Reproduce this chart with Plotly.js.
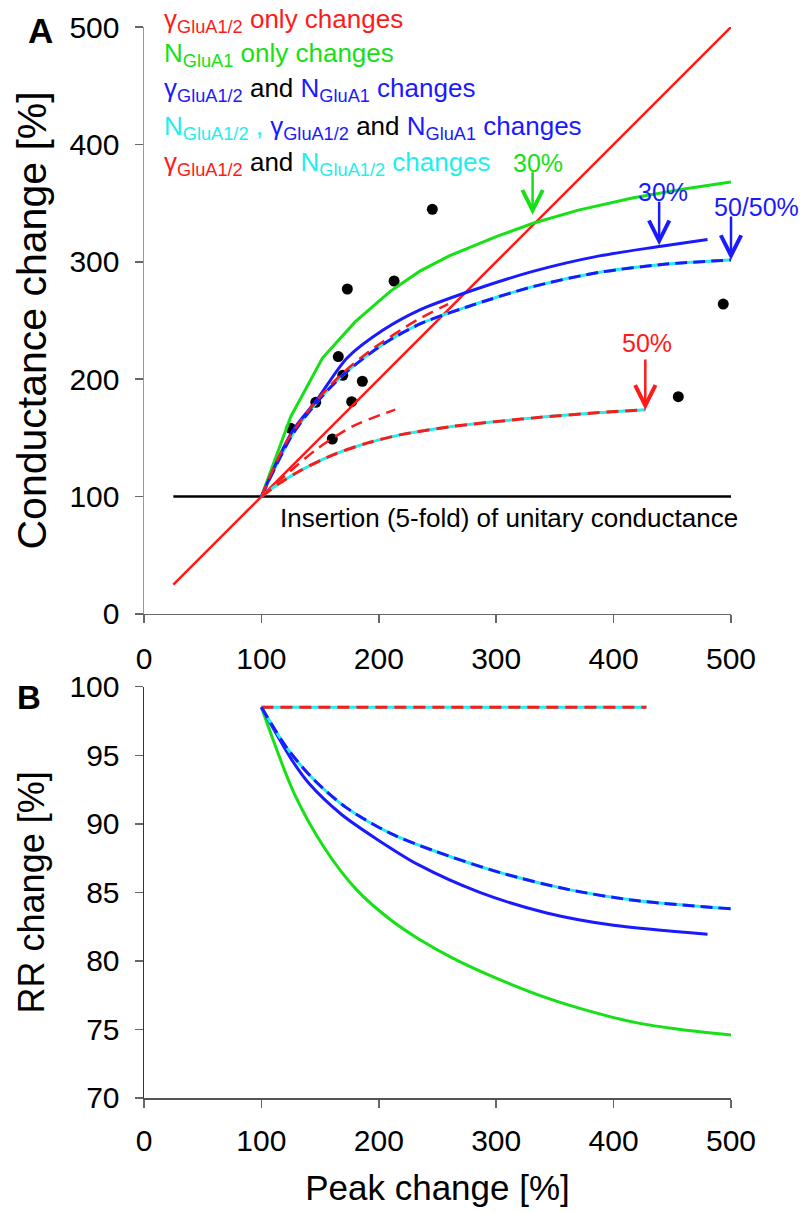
<!DOCTYPE html>
<html><head><meta charset="utf-8">
<script src="https://cdn.plot.ly/plotly-3.0.1.min.js"></script>
<style>html,body{margin:0;padding:0;background:#fff}#chart{width:803px;height:1212px}</style>
</head><body><div id="chart"></div>
<script>
// ---------- Panel A : Conductance change vs Peak change ----------
const dotPeak = [245.6, 213, 173.2, 165.5, 169.3, 186, 146.3, 176.9, 125, 160.4, 493.4, 455.1];
const dotCond = [344.7, 283.6, 276.8, 219.2, 203.3, 198.2, 180.3, 180.8, 158.1, 149, 264, 185.1];

const identityPeak = [25, 500];
const identityCond = [25, 500];
const insertionPeak = [25, 500];
const insertionCond = [100, 100];

const nOnlyPeak = [100, 125, 152, 180, 210, 235, 260, 300, 332, 370, 417, 460, 500];
const nOnlyCond = [100, 168, 218, 249, 275, 292, 305, 321.5, 333, 344, 354.5, 362, 368];

const gNPeak = [100, 126, 147, 173, 204, 235, 275, 332, 388, 439, 480];
const gNCond = [100, 155, 182, 218, 242, 259, 274, 292, 305, 313, 319];

const nn2Peak = [100, 126, 147, 170, 204, 235, 275, 332, 388, 445, 500];
const nn2Cond = [100, 152, 180, 204, 230, 247, 261.5, 279, 291, 298, 301.5];

const gOnlyPeak = [100, 121, 144, 167, 195, 232, 259];
const gOnlyCond = [100, 146, 178, 203, 226, 250, 264];

const gOnly2Peak = [100, 125, 148, 178, 214];
const gOnly2Cond = [100, 122, 141, 160, 174];

const gN2Peak = [100, 115, 133, 161, 190, 218, 261, 332, 388, 427];
const gN2Cond = [100, 111, 122, 135.5, 145.5, 152.5, 159.5, 167, 171.5, 174];

// ---------- Panel B : RR change vs Peak change ----------
const flatPeakB = [100, 428];
const flatRRB = [98.5, 98.5];
const nOnlyPeakB = [100, 128, 154, 181, 210, 234, 263, 293, 343, 381, 419, 457, 500];
const nOnlyRRB = [98.5, 92.2, 88.2, 85.2, 83.0, 81.6, 80.2, 79.0, 77.3, 76.3, 75.5, 75.0, 74.6];
const gNPeakB = [100, 126, 141, 168, 198, 234, 286, 343, 400, 480];
const gNRRB = [98.5, 94.65, 92.9, 90.7, 88.9, 87.0, 85.0, 83.5, 82.6, 81.95];
const nn2PeakB = [100, 122, 145, 172, 210, 248, 305, 362, 419, 500];
const nn2RRB = [98.5, 95.5, 93.2, 91.2, 89.3, 88, 86.4, 85.2, 84.4, 83.8];

// ticks
const xTicks = [0, 100, 200, 300, 400, 500];
const yTicksA = [0, 100, 200, 300, 400, 500];
const yTicksB = [70, 75, 80, 85, 90, 95, 100];

const RED = '#ff1a1a', GREEN = '#16e016', BLUE = '#1a1aff', CYAN = '#22eeee';
const FONT = 'Arial, "Liberation Sans", sans-serif';

function line(x, y, color, width, dash, xa, ya, shape) {
  return {x: x, y: y, type: 'scatter', mode: 'lines', xaxis: xa, yaxis: ya,
    line: {color: color, width: width, dash: dash || 'solid', shape: shape || 'linear', smoothing: 0.8},
    hoverinfo: 'skip', showlegend: false};
}
const S = 'spline';

const traces = [
  {x: dotPeak, y: dotCond, type: 'scatter', mode: 'markers', xaxis: 'x', yaxis: 'y',
   marker: {color: '#000', size: 11}, showlegend: false},
  line(insertionPeak, insertionCond, '#000', 2.5, null, 'x', 'y'),
  line(identityPeak, identityCond, RED, 2.5, null, 'x', 'y'),
  line(nOnlyPeak, nOnlyCond, GREEN, 3, null, 'x', 'y'),
  line(nn2Peak, nn2Cond, CYAN, 3, null, 'x', 'y', S),
  line(nn2Peak, nn2Cond, BLUE, 3, '12px,6px', 'x', 'y', S),
  line(gNPeak, gNCond, BLUE, 3, null, 'x', 'y', S),
  line(gOnlyPeak, gOnlyCond, RED, 2.5, '12px,7px', 'x', 'y', S),
  line(gOnly2Peak, gOnly2Cond, RED, 2.5, '12px,7px', 'x', 'y', S),
  line(gN2Peak, gN2Cond, CYAN, 3, null, 'x', 'y', S),
  line(gN2Peak, gN2Cond, RED, 3, '12px,7px', 'x', 'y', S),
  // panel B
  line(flatPeakB, flatRRB, CYAN, 3, null, 'x2', 'y2'),
  line(flatPeakB, flatRRB, RED, 3, '12px,7px', 'x2', 'y2'),
  line(nOnlyPeakB, nOnlyRRB, GREEN, 3, null, 'x2', 'y2', S),
  line(gNPeakB, gNRRB, BLUE, 3, null, 'x2', 'y2', S),
  line(nn2PeakB, nn2RRB, CYAN, 3, null, 'x2', 'y2', S),
  line(nn2PeakB, nn2RRB, BLUE, 3, '12px,6px', 'x2', 'y2', S)
];

function axis(extra) {
  return Object.assign({
    showgrid: false, zeroline: false, showline: true, linewidth: 1.5,
    ticks: 'outside', ticklen: 8, tickwidth: 1.5, tickcolor: '#666',
    tickfont: {family: FONT, size: 30, color: '#000'}
  }, extra);
}

function sp(color, s) { return '<span style="color:' + color + '">' + s + '</span>'; }
const g12 = 'γ<sub>GluA1/2</sub>';
const n1 = 'N<sub>GluA1</sub>';
const n12 = 'N<sub>GluA1/2</sub>';

const legendLines = [
  sp(RED, g12 + ' only changes'),
  sp(GREEN, n1 + ' only changes'),
  sp(BLUE, g12) + ' and ' + sp(BLUE, n1 + ' changes'),
  sp(CYAN, n12 + ' ,') + ' ' + sp(BLUE, g12) + ' and ' + sp(BLUE, n1 + ' changes'),
  sp(RED, g12) + ' and ' + sp(CYAN, n12 + ' changes')
];
// paper y positions of the legend lines
const legendPaperY = [1.0065, 0.9745, 0.9415, 0.9065, 0.873];

const annotations = [];
legendLines.forEach(function (t, i) {
  annotations.push({xref: 'paper', yref: 'paper', x: 0.03, y: legendPaperY[i], text: t, showarrow: false,
    xanchor: 'left', yanchor: 'middle', font: {family: FONT, size: 26, color: '#000'}});
});

function arrow(x, y, color, len) {
  return {xref: 'x', yref: 'y', x: x, y: y, ax: 0, ay: -len, text: '', showarrow: true,
    arrowhead: 5, arrowsize: 1.6, arrowwidth: 2.5, arrowcolor: color};
}
function label(x, y, color, t) {
  return {xref: 'x', yref: 'y', x: x, y: y, text: t, showarrow: false, xanchor: 'center', yanchor: 'middle',
    font: {family: FONT, size: 25, color: color}};
}
annotations.push(arrow(331, 340, GREEN, 44), label(335.6, 384, GREEN, '30%'));
annotations.push(arrow(438.8, 314, BLUE, 45), label(442, 359.5, BLUE, '30%'));
annotations.push(arrow(500, 301.5, BLUE, 45));
annotations.push({xref: 'paper', yref: 'paper', x: 1.0426, y: 0.832, text: '50/50%', showarrow: false,
  xanchor: 'center', yanchor: 'middle', font: {family: FONT, size: 25, color: BLUE}});
annotations.push(arrow(427, 173.8, RED, 52), label(428.4, 231, RED, '50%'));
annotations.push({xref: 'x', yref: 'y', x: 114, y: 82, text: 'Insertion (5-fold) of unitary conductance',
  showarrow: false, xanchor: 'left', yanchor: 'middle', font: {family: FONT, size: 26, color: '#000'}});
annotations.push({xref: 'paper', yref: 'paper', x: -0.177, y: 0.9963, text: '<b>A</b>', showarrow: false,
  xanchor: 'center', yanchor: 'middle', font: {family: FONT, size: 35, color: '#000'}});
annotations.push({xref: 'paper', yref: 'paper', x: -0.196, y: 0.374, text: '<b>B</b>', showarrow: false,
  xanchor: 'center', yanchor: 'middle', font: {family: FONT, size: 33, color: '#000'}});

const layout = {
  width: 803, height: 1212,
  margin: {l: 144, r: 72, t: 27, b: 114},
  paper_bgcolor: '#fff', plot_bgcolor: '#fff',
  font: {family: FONT, color: '#000'},
  showlegend: false,
  xaxis: axis({domain: [0, 1], anchor: 'y', range: [0, 500], tickvals: xTicks, linecolor: '#666', ticklabelstandoff: 10}),
  yaxis: axis({domain: [0.452, 1], anchor: 'x', range: [0, 500], tickvals: yTicksA, linecolor: '#999', ticklabelstandoff: 9,
    title: {text: 'Conductance change [%]', font: {family: FONT, size: 41, color: '#000'}, standoff: 10}}),
  xaxis2: axis({domain: [0, 1], anchor: 'y2', range: [0, 500], tickvals: xTicks, linecolor: '#555', ticklabelstandoff: 7,
    title: {text: 'Peak change [%]', font: {family: FONT, size: 35, color: '#000'}, standoff: 20}}),
  yaxis2: axis({domain: [0, 0.384], anchor: 'x2', range: [70, 100], tickvals: yTicksB, linecolor: '#333', ticklabelstandoff: 9,
    title: {text: 'RR change [%]', font: {family: FONT, size: 36, color: '#000'}, standoff: 14}}),
  annotations: annotations
};

Plotly.newPlot('chart', traces, layout, {displayModeBar: false, staticPlot: true});
</script>
</body></html>
